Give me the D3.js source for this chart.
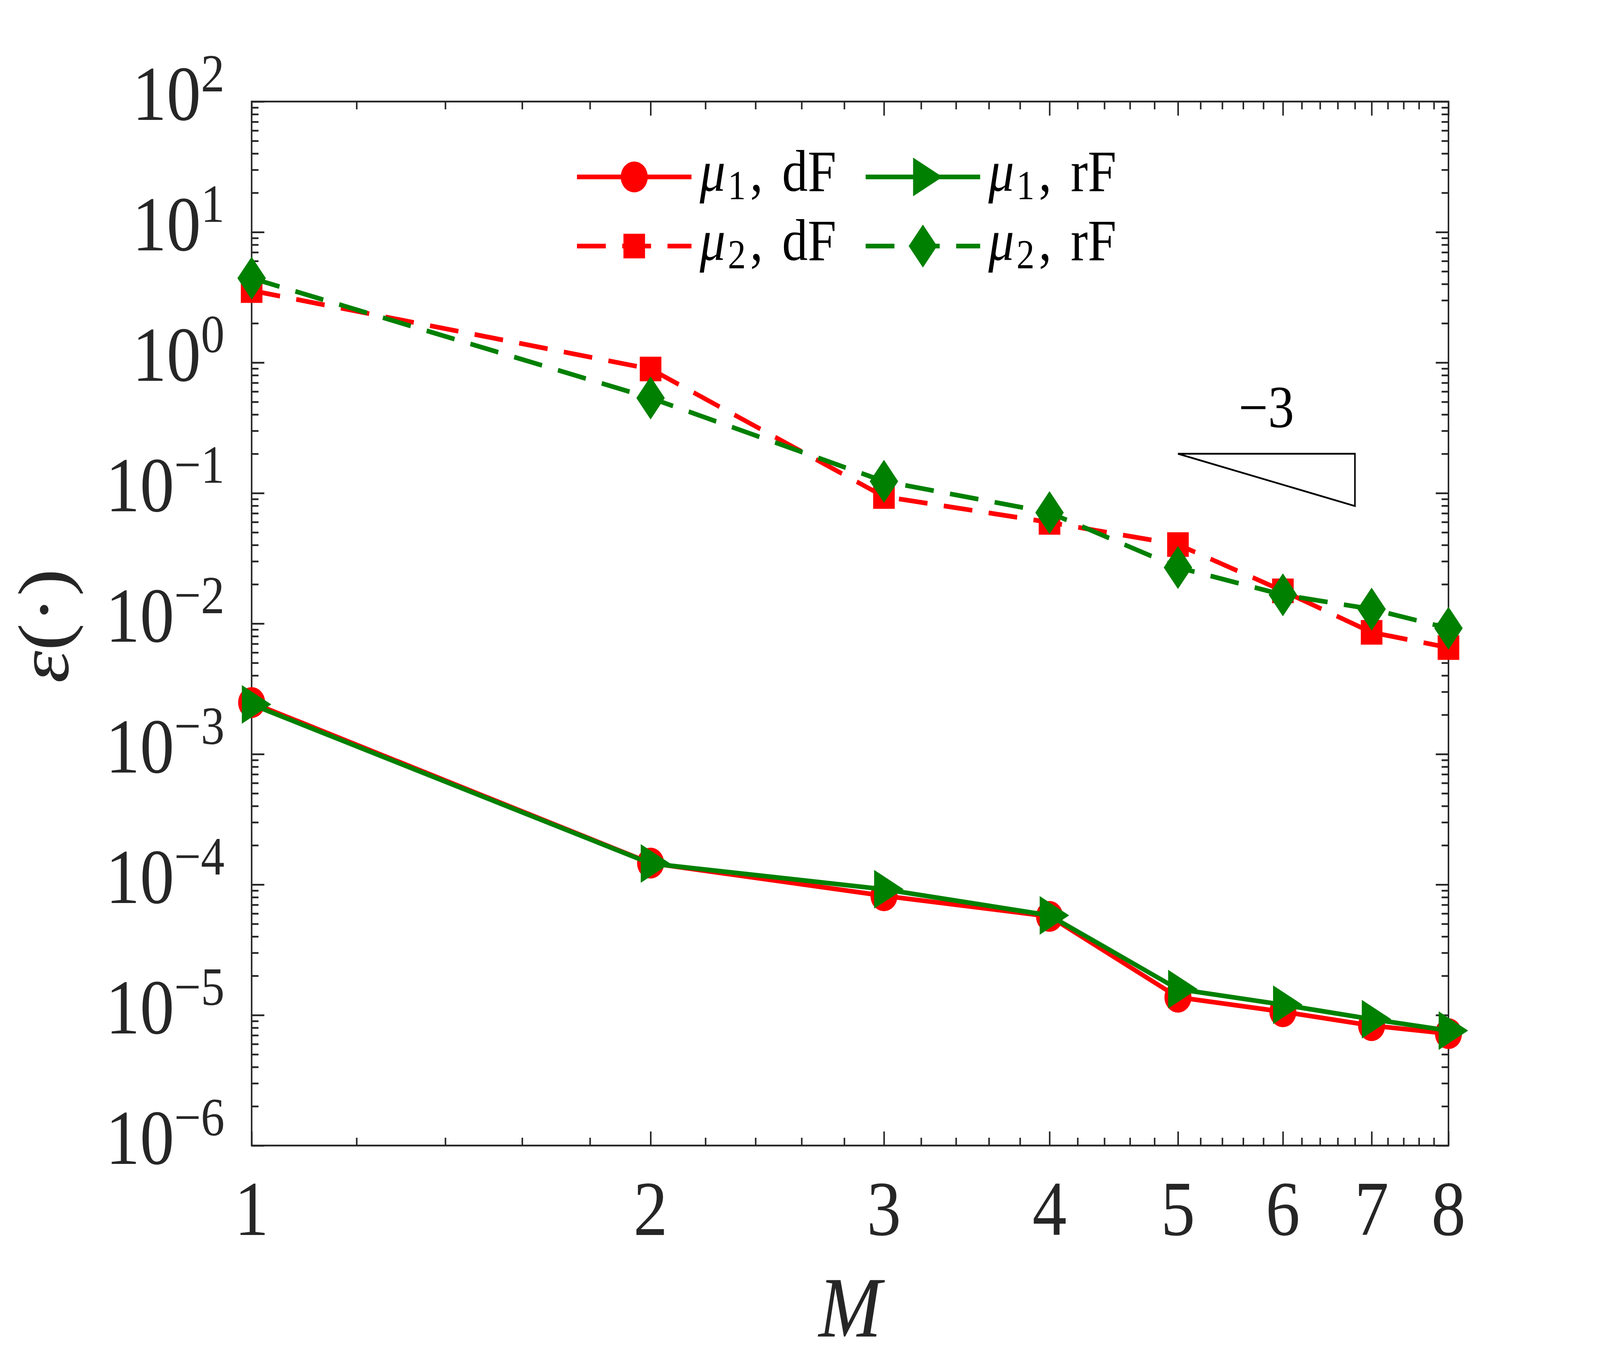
<!DOCTYPE html>
<html><head><meta charset="utf-8">
<script src="https://cdn.jsdelivr.net/npm/d3@7"></script>
<style>html,body{margin:0;padding:0;background:#fff;width:100%;height:100%;overflow:hidden;} svg{display:block;width:100vw;height:100vh;}</style>
</head><body>
<svg id="chart" viewBox="0 0 4667 3500" preserveAspectRatio="none"></svg>
<script>
// ---------------- data ----------------
const M = [1, 2, 3, 4, 5, 6, 7, 8];
const mu1_dF = [2.48e-3, 1.46e-4, 8.2e-5, 5.7e-5, 1.37e-5, 1.06e-5, 8.3e-6, 7.2e-6];
const mu1_rF = [2.40e-3, 1.45e-4, 9.2e-5, 5.8e-5, 1.58e-5, 1.20e-5, 9.3e-6, 7.6e-6];
const mu2_dF = [3.56, 0.892, 0.094, 0.0596, 0.0403, 0.0178, 0.00856, 0.00654];
const mu2_rF = [4.43, 0.535, 0.123, 0.0708, 0.0269, 0.0166, 0.0129, 0.0092];
const xTickLabels = ["1", "2", "3", "4", "5", "6", "7", "8"];
const yTickExps = [2, 1, 0, -1, -2, -3, -4, -5, -6];
const seriesNames = [["\u03bc", "1", "dF"], ["\u03bc", "2", "dF"], ["\u03bc", "1", "rF"], ["\u03bc", "2", "rF"]];
const slopeX = [5, 6.8];
const slopeY0 = 0.2;
const slopeOrder = -3;
const slopeLabel = "\u22123";

// ---------------- layout ----------------
const svg = d3.select("#chart");
const W = 4667, H = 3500;
const L = 734, R = 4225, T = 260, B = 2933;
const axisColor = "#262626";
const fontFam = "'Liberation Serif', 'DejaVu Serif', serif";
svg.append("rect").attr("width", W).attr("height", H).attr("fill", "#fff");

const x = d3.scaleLog().domain([1, 8]).range([L, R]);
const y = d3.scaleLog().domain([1e-6, 1e2]).range([B, T]);

const xMinor = [];
for (let i = 1; i < 8; i++) for (let j = 1; j < 5; j++) xMinor.push(+(i + 0.2 * j).toFixed(1));
const yMinor = [];
for (let k = -6; k <= 1; k++) for (let m = 2; m <= 9; m++) yMinor.push(m * Math.pow(10, k));
const yMajor = yTickExps.map(e => Math.pow(10, e));

function styleAxis(g) {
  g.selectAll("path").remove();
  g.selectAll("line").attr("stroke", axisColor).attr("stroke-width", 4.5);
  g.selectAll("text").remove();
}
const axes = svg.append("g");
[[d3.axisBottom, B], [d3.axisTop, T]].forEach(([fn, pos]) => {
  axes.append("g").attr("transform", `translate(0,${pos})`)
    .call(fn(x).tickValues(M).tickSize(-36).tickSizeOuter(0).tickFormat("")).call(styleAxis);
  axes.append("g").attr("transform", `translate(0,${pos})`)
    .call(fn(x).tickValues(xMinor).tickSize(-20).tickSizeOuter(0).tickFormat("")).call(styleAxis);
});
[[d3.axisLeft, L], [d3.axisRight, R]].forEach(([fn, pos]) => {
  axes.append("g").attr("transform", `translate(${pos},0)`)
    .call(fn(y).tickValues(yMajor).tickSize(-37).tickSizeOuter(0).tickFormat("")).call(styleAxis);
  axes.append("g").attr("transform", `translate(${pos},0)`)
    .call(fn(y).tickValues(yMinor).tickSize(-20).tickSizeOuter(0).tickFormat("")).call(styleAxis);
});
axes.append("rect").attr("x", L).attr("y", T).attr("width", R - L).attr("height", B - T)
  .attr("fill", "none").attr("stroke", axisColor).attr("stroke-width", 4.5);

// x tick labels
svg.append("g").selectAll("text").data(M).join("text")
  .attr("x", d => x(d)).attr("y", 3162).attr("text-anchor", "middle")
  .attr("font-family", fontFam).attr("font-size", 200).attr("fill", axisColor)
  .text((d, i) => xTickLabels[i]);

// y tick labels
const yl = svg.append("g").selectAll("text").data(yTickExps).join("text")
  .attr("x", 655).attr("y", d => y(Math.pow(10, d)) + 47).attr("text-anchor", "end")
  .attr("font-family", fontFam).attr("font-size", 200).attr("fill", axisColor);
yl.append("tspan").text("10");
yl.append("tspan").attr("font-size", 138).attr("dy", -73).text(d => d < 0 ? "\u2212" + (-d) : String(d));

// axis labels
svg.append("text").attr("x", (L + R) / 2).attr("y", 3422).attr("text-anchor", "middle")
  .attr("font-family", fontFam).attr("font-size", 220).attr("font-style", "italic")
  .attr("fill", axisColor).text("M");
const ylab = svg.append("text").attr("transform", `translate(198,${(T + B) / 2 + 6}) rotate(-90)`)
  .attr("text-anchor", "middle").attr("font-family", fontFam).attr("font-size", 210).attr("fill", axisColor);
ylab.append("tspan").attr("font-style", "italic").text("\u03b5");
ylab.append("tspan").text("(\u00b7)");

// ---------------- markers ----------------
function markerPath(type, cx, cy) {
  if (type === "circle") {
    const r = 39.5;
    return `M${cx - r},${cy}a${r},${r} 0 1,0 ${2 * r},0a${r},${r} 0 1,0 ${-2 * r},0Z`;
  }
  if (type === "square") { const s = 31.5; return `M${cx - s},${cy - s}H${cx + s}V${cy + s}H${cx - s}Z`; }
  if (type === "triangle") {
    const w = 86, h = 99;
    return `M${cx - w / 3},${cy - h / 2}L${cx + 2 * w / 3},${cy}L${cx - w / 3},${cy + h / 2}Z`;
  }
  if (type === "diamond") {
    const w = 41.5, h = 55;
    return `M${cx},${cy - h}L${cx + w},${cy}L${cx},${cy + h}L${cx - w},${cy}Z`;
  }
}

const series = [
  { vals: mu1_dF, color: "#ff0000", dash: null, marker: "circle", name: seriesNames[0] },
  { vals: mu2_dF, color: "#ff0000", dash: "84,48", marker: "square", name: seriesNames[1] },
  { vals: mu1_rF, color: "#008000", dash: null, marker: "triangle", name: seriesNames[2] },
  { vals: mu2_rF, color: "#008000", dash: "84,48", marker: "diamond", name: seriesNames[3] }
];
const line = d3.line().x(d => x(d[0])).y(d => y(d[1]));
const dataG = svg.append("g");
series.forEach(s => {
  const pts = M.map((m, i) => [m, s.vals[i]]);
  dataG.append("path").attr("d", line(pts)).attr("fill", "none").attr("stroke", s.color)
    .attr("stroke-width", 12).attr("stroke-linejoin", "round")
    .attr("stroke-dasharray", s.dash);
  dataG.append("g").selectAll("path").data(pts).join("path")
    .attr("d", d => markerPath(s.marker, x(d[0]), y(d[1]))).attr("fill", s.color);
});

// ---------------- slope triangle ----------------
const slopeY1 = slopeY0 * Math.pow(slopeX[1] / slopeX[0], slopeOrder);
svg.append("path")
  .attr("d", `M${x(slopeX[0])},${y(slopeY0)}L${x(slopeX[1])},${y(slopeY0)}L${x(slopeX[1])},${y(slopeY1)}Z`)
  .attr("fill", "none").attr("stroke", "#000").attr("stroke-width", 4.5).attr("stroke-linejoin", "miter");
svg.append("text").attr("x", x(Math.sqrt(slopeX[0] * slopeX[1]))).attr("y", y(slopeY0) - 68)
  .attr("text-anchor", "middle").attr("font-family", fontFam).attr("font-size", 152).attr("fill", "#000")
  .text(slopeLabel);

// ---------------- legend ----------------
const legPos = [[1683, 453], [1683, 630], [2525, 453], [2525, 630]];
const leg = svg.append("g");
series.forEach((s, i) => {
  const [lx, ly] = legPos[i];
  leg.append("line").attr("x1", lx).attr("x2", lx + 334).attr("y1", ly).attr("y2", ly)
    .attr("stroke", s.color).attr("stroke-width", 12).attr("stroke-dasharray", s.dash);
  leg.append("path").attr("d", markerPath(s.marker, lx + 167, ly)).attr("fill", s.color);
  const t = leg.append("text").attr("y", ly + 36).attr("font-family", fontFam)
    .attr("font-size", 150).attr("fill", "#000");
  t.append("tspan").attr("x", lx + 358).attr("font-style", "italic").text(s.name[0]);
  t.append("tspan").attr("x", lx + 440).attr("dy", 21).attr("font-size", 105).text(s.name[1]);
  t.append("tspan").attr("x", lx + 505).attr("dy", -21).text(",");
  t.append("tspan").attr("x", lx + 598).text(s.name[2]);
});
</script>
</body></html>
